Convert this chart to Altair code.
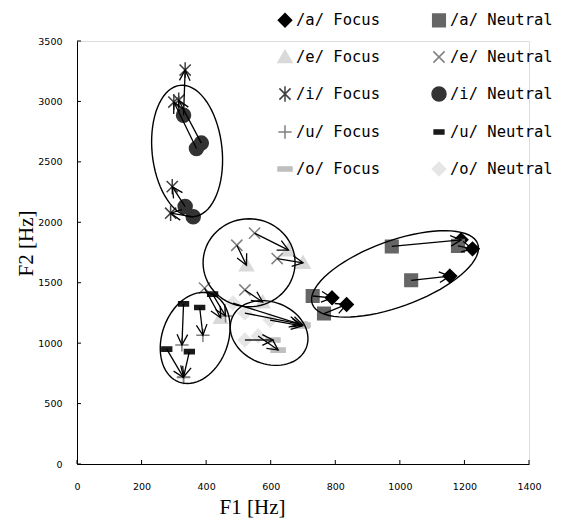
import math
import numpy as np
import pandas as pd
import altair as alt

# plot-area size (px) and axis ranges
W, H = 452, 423
X_MAX, Y_MAX = 1400, 3500
SX, SY = W / X_MAX, H / Y_MAX

x_ticks = [0, 200, 400, 600, 800, 1000, 1200, 1400]
y_ticks = [0, 500, 1000, 1500, 2000, 2500, 3000, 3500]

series = ["/a/ Focus", "/a/ Neutral", "/e/ Focus", "/e/ Neutral", "/i/ Focus",
          "/i/ Neutral", "/u/ Focus", "/u/ Neutral", "/o/ Focus", "/o/ Neutral"]
colors = ["#000000", "#666666", "#d9d9d9", "#808080", "#404040",
          "#333333", "#808080", "#1a1a1a", "#bfbfbf", "#e6e6e6"]
shapes = [
    "M0,-0.95L0.95,0L0,0.95L-0.95,0Z",                    # diamond
    "M-0.9,-0.9L0.9,-0.9L0.9,0.9L-0.9,0.9Z",               # square
    "M0,-0.95L1,0.8L-1,0.8Z",                              # triangle
    "M-0.8,-0.8L0.8,0.8M-0.8,0.8L0.8,-0.8",                # x
    "M-0.8,-0.8L0.8,0.8M-0.8,0.8L0.8,-0.8M0,-1.1L0,1.1",   # asterisk
    "circle",                                               # circle
    "M-0.95,0L0.95,0M0,-0.95L0,0.95",                      # plus
    "M-0.7,-0.3L0.7,-0.3L0.7,0.3L-0.7,0.3Z",               # short dash
    "M-1,-0.3L1,-0.3L1,0.3L-1,0.3Z",                       # long dash
    "M0,-0.95L0.95,0L0,0.95L-0.95,0Z",                     # diamond
]

vowels = ["a", "e", "i", "u", "o"]

a_neutral_f1 = [975, 1180, 1035, 730, 765]
a_neutral_f2 = [1800, 1805, 1520, 1390, 1245]
a_focus_f1 = [1190, 1225, 1155, 790, 835]
a_focus_f2 = [1855, 1780, 1555, 1375, 1320]

e_neutral_f1 = [550, 495, 620, 395, 520]
e_neutral_f2 = [1910, 1810, 1700, 1455, 1440]
e_focus_f1 = [655, 525, 700, 445, 575]
e_focus_f2 = [1770, 1645, 1665, 1210, 1340]

i_neutral_f1 = [330, 370, 385, 335, 360]
i_neutral_f2 = [2885, 2610, 2655, 2130, 2045]
i_focus_f1 = [335, 300, 315, 295, 290]
i_focus_f2 = [3260, 2995, 3010, 2295, 2075]

u_neutral_f1 = [330, 380, 420, 278, 348]
u_neutral_f2 = [1325, 1295, 1405, 950, 930]
u_focus_f1 = [325, 390, 460, 330, 330]
u_focus_f2 = [985, 1065, 1225, 715, 720]

o_neutral_f1 = [483, 520, 598, 520, 561]
o_neutral_f2 = [1332, 1249, 1191, 1026, 1059]
o_focus_f1 = [700, 691, 697, 607, 623]
o_focus_f2 = [1150, 1158, 1142, 1026, 943]

data = {
    "a": (a_neutral_f1, a_neutral_f2, a_focus_f1, a_focus_f2),
    "e": (e_neutral_f1, e_neutral_f2, e_focus_f1, e_focus_f2),
    "i": (i_neutral_f1, i_neutral_f2, i_focus_f1, i_focus_f2),
    "u": (u_neutral_f1, u_neutral_f2, u_focus_f1, u_focus_f2),
    "o": (o_neutral_f1, o_neutral_f2, o_focus_f1, o_focus_f2),
}

# ellipse annotations: centre (Hz), semi-axes (px), rotation (deg, clockwise on screen)
ell_vowel = ["i", "e", "u", "o", "a"]
ell_cf1 = [341, 533, 366, 595, 985]
ell_cf2 = [2590, 1665, 1043, 1084, 1573]
ell_rx = [35, 46, 33, 40, 88]
ell_ry = [66, 44, 47, 31, 33]
ell_rot = [-6, 0, 20, 22, -20]

pts, arr = [], []
for v in vowels:
    nf1, nf2, ff1, ff2 = data[v]
    for k in range(len(nf1)):
        pts.append({"series": f"/{v}/ Neutral", "f1": nf1[k], "f2": nf2[k]})
        pts.append({"series": f"/{v}/ Focus", "f1": ff1[k], "f2": ff2[k]})
        dx = (ff1[k] - nf1[k]) * SX
        dy = -(ff2[k] - nf2[k]) * SY
        ang = math.degrees(math.atan2(dy, dx)) % 360
        arr.append({"f1": nf1[k], "f2": nf2[k], "f1e": ff1[k], "f2e": ff2[k], "ang": ang})
pts_df = pd.DataFrame(pts)
pts_df["ord"] = pts_df["series"].map({s: i for i, s in enumerate(series)})
pts_df = pts_df.sort_values("ord", kind="stable")
arr_df = pd.DataFrame(arr)

ell = []
t = np.linspace(0, 2 * np.pi, 73)
for j, v in enumerate(ell_vowel):
    th = math.radians(ell_rot[j])
    u = ell_rx[j] * np.cos(t)
    w = ell_ry[j] * np.sin(t)
    X = u * math.cos(th) - w * math.sin(th)
    Y = u * math.sin(th) + w * math.cos(th)
    for k in range(len(t)):
        ell.append({"e": v, "k": k, "f1": ell_cf1[j] + X[k] / SX, "f2": ell_cf2[j] - Y[k] / SY})
ell_df = pd.DataFrame(ell)

xs = alt.Scale(domain=[0, X_MAX], nice=False, zero=False)
ys = alt.Scale(domain=[0, Y_MAX], nice=False, zero=False)

x_axis = alt.Axis(values=x_ticks, format="d", title="F1 [Hz]", ticks=False, grid=False,
                  domainColor="black", domainWidth=1,
                  labelFont="DejaVu Sans", labelFontSize=9.5, labelColor="black",
                  labelPadding=17, labelFlush=False,
                  titleFont="Liberation Serif", titleFontSize=21, titleFontWeight="normal",
                  titleColor="black", titleX=175, titleY=43, titleAlign="center",
                  titleBaseline="middle")
y_axis = alt.Axis(values=y_ticks, format="d", title="F2 [Hz]", ticks=False, grid=False,
                  domainColor="black", domainWidth=1,
                  labelFont="DejaVu Sans", labelFontSize=9.5, labelColor="black",
                  labelPadding=15, labelFlush=False,
                  titleFont="Liberation Serif", titleFontSize=21, titleFontWeight="normal",
                  titleColor="black", titleAngle=270, titleX=-45, titleY=202,
                  titleAlign="center", titleBaseline="alphabetic")

X = alt.X("f1:Q", scale=xs, axis=x_axis)
Y = alt.Y("f2:Q", scale=ys, axis=y_axis)

leg = alt.Legend(title=None, orient="none", legendX=200, legendY=-29, columns=2,
                 direction="horizontal",
                 labelFont="DejaVu Sans Mono", labelFontSize=15.5, labelColor="black",
                 labelOffset=3, symbolSize=196, symbolStrokeWidth=1.5,
                 rowPadding=17, columnPadding=49, padding=0, labelLimit=200)

points = alt.Chart(pts_df).mark_point(opacity=1, strokeWidth=1.5, size=196).encode(
    x=X, y=Y,
    shape=alt.Shape("series:N", scale=alt.Scale(domain=series, range=shapes), legend=leg),
    fill=alt.Fill("series:N", scale=alt.Scale(domain=series, range=colors), legend=leg),
    stroke=alt.Stroke("series:N", scale=alt.Scale(domain=series, range=colors), legend=leg),
    order=alt.Order("ord:Q"),
)

ellipses = alt.Chart(ell_df).mark_line(color="black", strokeWidth=1.4).encode(
    x=X, y=Y, detail="e:N", order="k:Q")

shafts = alt.Chart(arr_df).mark_rule(color="black", strokeWidth=1.3).encode(
    x=X, y=Y, x2="f1e:Q", y2="f2e:Q")

heads = alt.Chart(arr_df).mark_point(
    shape="M-1,-0.5L0,0L-1,0.5", size=450, filled=False, stroke="black",
    strokeWidth=1.3, opacity=1).encode(
    x=alt.X("f1e:Q", scale=xs, axis=x_axis), y=alt.Y("f2e:Q", scale=ys, axis=y_axis),
    angle=alt.Angle("ang:Q", scale=None))

xt = alt.Chart(pd.DataFrame({"f1": x_ticks})).mark_rule(color="black").encode(
    x=X, y=alt.value(H), y2=alt.value(H - 4))
yt = alt.Chart(pd.DataFrame({"f2": y_ticks})).mark_rule(color="black").encode(
    y=Y, x=alt.value(0), x2=alt.value(4))

chart = alt.layer(points, ellipses, shafts, heads, xt, yt).properties(
    width=W, height=H,
    autosize=alt.AutoSizeParams(type="none"),
    padding={"left": 69, "top": 33, "right": 24, "bottom": 62},
).configure_view(stroke=None).configure(background="white")

chart.save("out.html", embed_options={"renderer": "svg", "actions": False})
